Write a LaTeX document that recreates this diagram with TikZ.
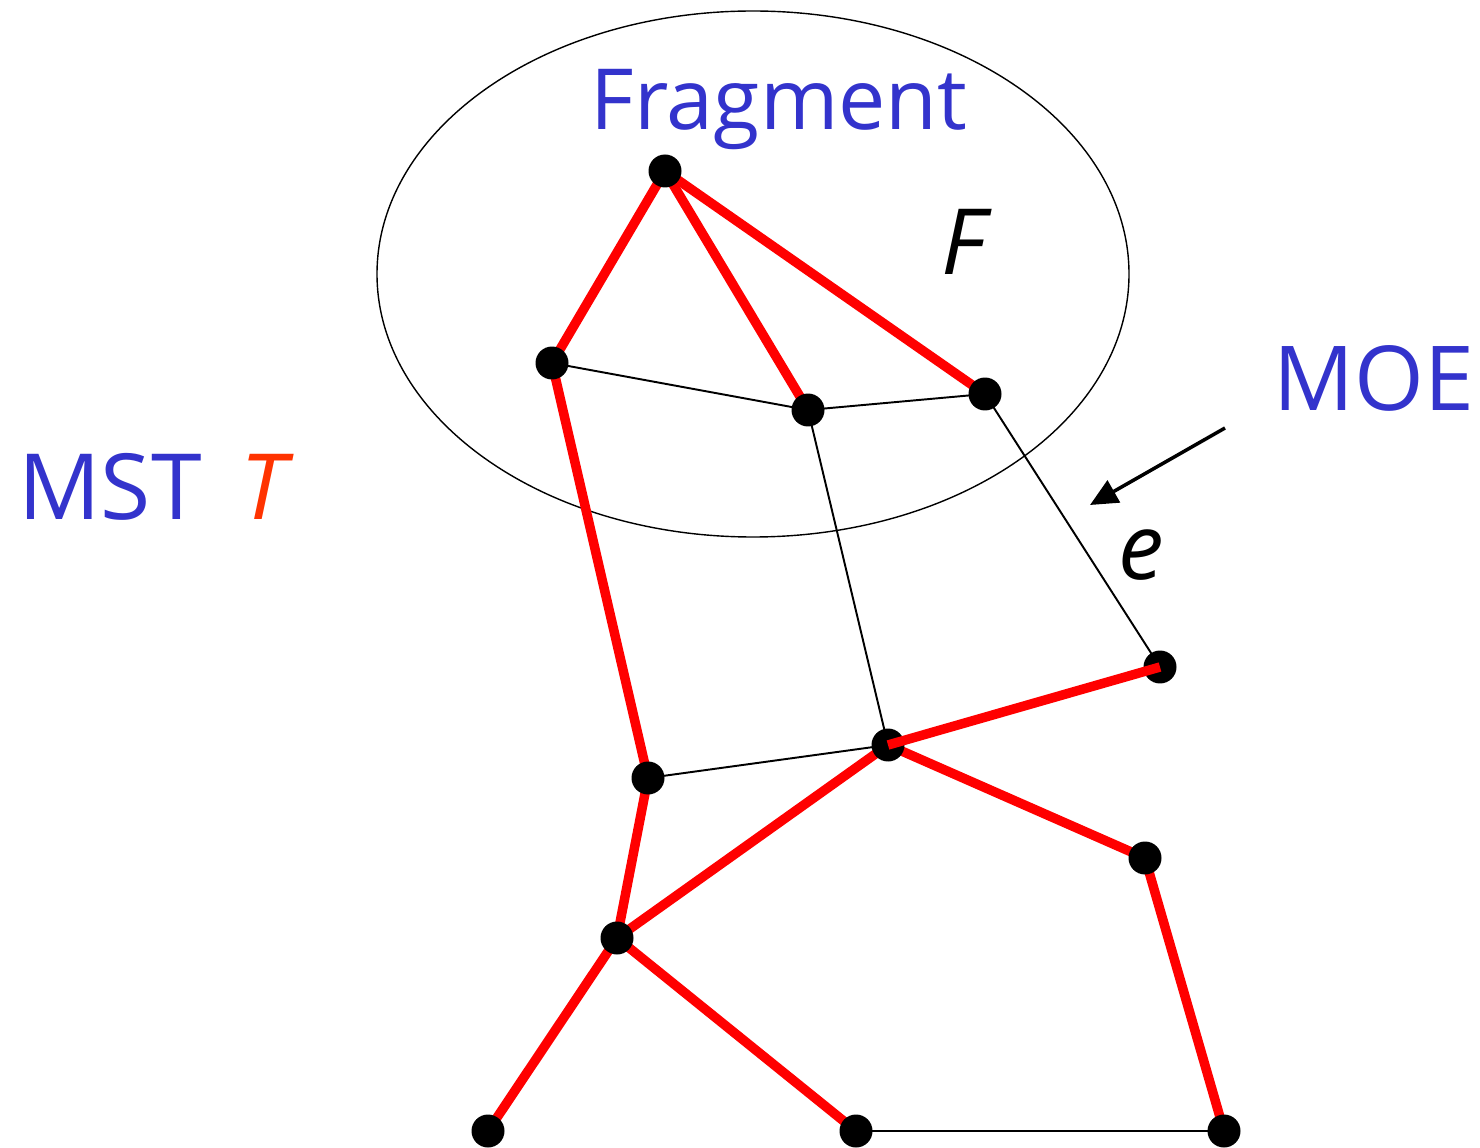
\documentclass[tikz,border=0pt]{standalone}
\usepackage{fontspec}
\setmainfont{Open Sans}
\usetikzlibrary{arrows.meta}
\definecolor{tblue}{HTML}{3333CC}
\definecolor{tred}{HTML}{FF3300}
\definecolor{ered}{HTML}{FF0000}
\begin{document}
\begin{tikzpicture}[x=0.02cm,y=-0.02cm,
  vtx/.style={circle,fill=black,inner sep=0pt,minimum size=0.66cm},
  tree/.style={draw=ered,line width=5.4pt},
  thin/.style={draw=black,line width=1.1pt},
  lbl/.style={font=\fontsize{52}{60}\selectfont,inner sep=0pt}]
\useasboundingbox (0,0) rectangle (1480,1148);
% ellipse
\draw[line width=0.8pt] (753,274) ellipse [x radius=376, y radius=263];
% coordinates of vertices
\coordinate (pA) at (665,171);
\coordinate (pB) at (552,363);
\coordinate (pC) at (808,410);
\coordinate (pD) at (985,394);
\coordinate (pE) at (1160,667);
\coordinate (pG) at (888,745);
\coordinate (pH) at (648,778);
\coordinate (pI) at (1145,858);
\coordinate (pJ) at (617,938);
\coordinate (pK) at (488,1131);
\coordinate (pL) at (856,1131);
\coordinate (pM) at (1224,1131);
% thin edges
\draw[thin] (pB) -- (pC);
\draw[thin] (pC) -- (pD);
\draw[thin] (pC) -- (pG);
\draw[thin] (pD) -- (pE);
\draw[thin] (pH) -- (pG);
\draw[thin] (pL) -- (pM);
% tree edges
\draw[tree] (pA) -- (pB);
\draw[tree] (pA) -- (pC);
\draw[tree] (pA) -- (pD);
\draw[tree] (pB) -- (pH);
\draw[tree] (pH) -- (pJ);
\draw[tree] (pJ) -- (pG);
\draw[tree] (pG) -- (pI);
\draw[tree] (pI) -- (pM);
\draw[tree] (pJ) -- (pK);
\draw[tree] (pJ) -- (pL);
% vertices
\foreach \v in {A,B,C,D,E,G,H,I,J,K,L,M}
  \node[vtx] (\v) at (p\v) {};
\draw[tree,line cap=butt] (G.center) -- (E.center);
% labels
\node[lbl,text=tblue,font=\fontsize{48}{56}\selectfont] (frag) at (779,110) {Fragment};
\node[lbl] (F) at (963,242) {\itshape F};
\node[lbl,text=tblue,font=\fontsize{51}{58}\selectfont] (moe) at (1374,378) {MOE};
\node[lbl] (e) at (1141,555) {\itshape e};
\node[lbl,text=tblue,anchor=west] (mst) at (18,487) {MST\, \textcolor{tred}{\itshape T}};
% arrow
\coordinate (at) at (1225,428);
\coordinate (ah) at (1090,505);
\draw[line width=2pt,-{Triangle[length=0.55cm,width=0.5cm]}] (at) -- (ah);
\end{tikzpicture}
\end{document}
